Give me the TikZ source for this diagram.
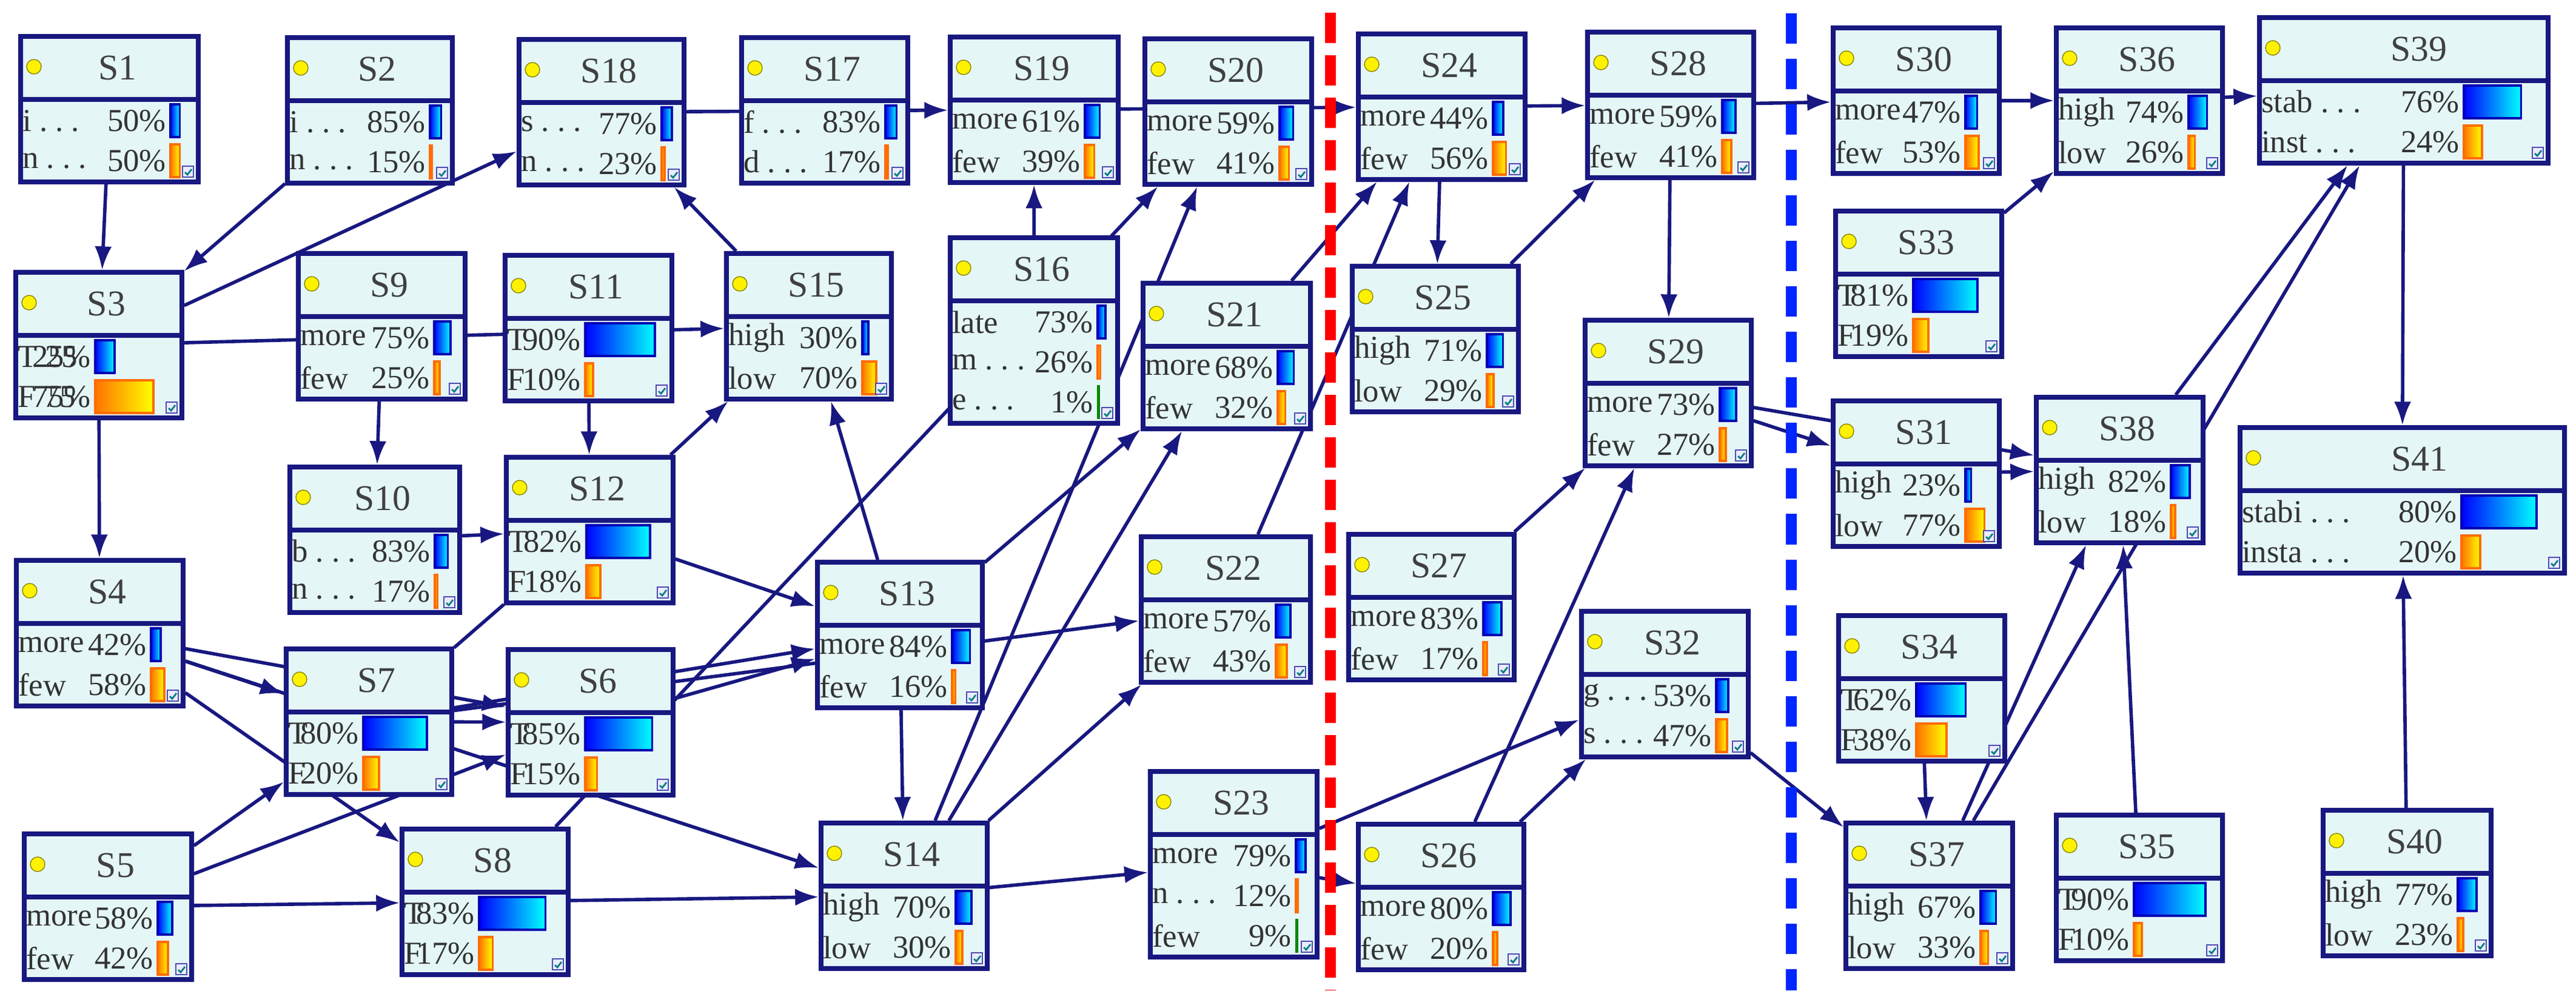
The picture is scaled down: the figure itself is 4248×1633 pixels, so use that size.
\documentclass[tikz,border=0pt]{standalone}
\usepackage{fontspec}
\setmainfont{Liberation Serif}
\usetikzlibrary{arrows.meta,backgrounds}
\definecolor{edgec}{RGB}{24,24,128}
\definecolor{boxfill}{RGB}{228,246,246}
\newcommand\dd{.\kern0.25em.\kern0.25em.}
\tikzset{
  bnbox/.style={draw=edgec,line width=2.2pt,fill=boxfill,inner sep=0pt},
  bnline/.style={draw=edgec,line width=2.2pt},
  bntitle/.style={font=\fontsize{17}{19}\selectfont,text=black!75,inner sep=0pt},
  bntext/.style={font=\fontsize{15}{17}\selectfont,text=black!80,inner sep=1pt},
  bar1/.style={draw=blue!70!black,line width=1pt,left color=blue,right color=cyan},
  bar2/.style={draw=orange!85!red,line width=1pt,left color=orange!90!red,right color=yellow},
  bar3/.style={draw=green!50!black,line width=0.6pt,fill=green!60!black},
  chk/.style={draw=blue!40!gray,line width=0.6pt,fill=blue!8},
  edge/.style={draw=edgec,line width=1.6pt,-{Latex[length=11pt,width=8pt]}},
  plain/.style={draw=edgec,line width=1.6pt},
}
\newcommand\bnnode[8][2]{%
  \pgfmathsetmacro\bnH{108+66*#1}%
  \pgfmathsetmacro\bnBC{#5-#6-14}%
  \node[bnbox,minimum width=#5*0.01cm,minimum height=\bnH*0.01cm,anchor=north west] (#2) at (#3,#4) {};
  \draw[bnline] (#3,#4+108) -- ++(#5,0);
  \fill[yellow,draw=olive,line width=0.4pt] (#3+26,#4+54) circle (0.12cm);
  \node[bntitle] at (#3+0.56*#5,#4+56) {#7};
  \foreach \lab/\pc [count=\ii] in {#8} {%
    \pgfmathsetmacro\ry{#4+108+66*(\ii-1)}%
    \pgfmathsetmacro\bl{max(\pc/100*\bnBC,3)}%
    \node[bntext,anchor=west] at (#3+3,\ry+35) {\lab};
    \node[bntext,anchor=east] at (#3+#6,\ry+35) {\pc\%};
    \draw[bar\ii] (#3+#6+3,\ry+8) rectangle ++(\bl,54);
  }
  \draw[chk] (#3+#5-22,#4+\bnH-22) rectangle ++(18,18);
  \draw[teal,line width=0.8pt] (#3+#5-18,#4+\bnH-12) -- ++(4,4) -- ++(7,-9);
}
\begin{document}
\begin{tikzpicture}[x=0.01cm,y=-0.01cm]
\useasboundingbox (0,0) rectangle (4248,1633);
\bnnode{S1}{30}{56}{293}{248}{S1}{i \dd/50,n \dd/50}
\bnnode{S2}{470}{58}{272}{236}{S2}{i \dd/85,n \dd/15}
\bnnode{S18}{852}{61}{272}{236}{S18}{s \dd/77,n \dd/23}
\bnnode{S17}{1219}{58}{274}{238}{S17}{f \dd/83,d \dd/17}
\bnnode{S19}{1563}{57}{277}{223}{S19}{more/61,few/39}
\bnnode{S20}{1884}{60}{275}{223}{S20}{more/59,few/41}
\bnnode{S24}{2236}{52}{275}{223}{S24}{more/44,few/56}
\bnnode{S28}{2614}{49}{274}{223}{S28}{more/59,few/41}
\bnnode{S30}{3019}{42}{274}{219}{S30}{more/47,few/53}
\bnnode{S36}{3387}{42}{274}{219}{S36}{high/74,low/26}
\bnnode{S39}{3722}{25}{476}{338}{S39}{stab \dd/76,inst \dd/24}
\bnnode{S3}{22}{445}{274}{132}{S3}{T 25/25,F 75/75}
\bnnode{S9}{488}{414}{275}{225}{S9}{more/75,few/25}
\bnnode{S11}{829}{417}{275}{133}{S11}{T/90,F/10}
\bnnode{S15}{1194}{414}{272}{225}{S15}{high/30,low/70}
\bnnode[3]{S16}{1563}{388}{276}{244}{S16}{late/73,m \dd/26,e \dd/1}
\bnnode{S21}{1881}{463}{276}{223}{S21}{more/68,few/32}
\bnnode{S25}{2226}{435}{274}{223}{S25}{high/71,low/29}
\bnnode{S29}{2610}{524}{274}{223}{S29}{more/73,few/27}
\bnnode{S33}{3023}{344}{274}{129}{S33}{T/81,F/19}
\bnnode{S31}{3019}{657}{274}{219}{S31}{high/23,low/77}
\bnnode{S38}{3354}{651}{275}{223}{S38}{high/82,low/18}
\bnnode{S41}{3690}{701}{535}{366}{S41}{stabi \dd/80,insta \dd/20}
\bnnode{S10}{474}{766}{280}{240}{S10}{b \dd/83,n \dd/17}
\bnnode{S12}{831}{750}{275}{133}{S12}{T/82,F/18}
\bnnode{S4}{23}{920}{275}{223}{S4}{more/42,few/58}
\bnnode{S27}{2220}{877}{273}{223}{S27}{more/83,few/17}
\bnnode{S13}{1344}{923}{272}{223}{S13}{more/84,few/16}
\bnnode{S22}{1878}{881}{279}{223}{S22}{more/57,few/43}
\bnnode{S32}{2604}{1004}{275}{223}{S32}{g \dd/53,s \dd/47}
\bnnode{S34}{3028}{1011}{274}{129}{S34}{T/62,F/38}
\bnnode{S7}{468}{1066}{273}{128}{S7}{T/80,F/20}
\bnnode{S6}{834}{1067}{272}{128}{S6}{T/85,F/15}
\bnnode{S5}{36}{1371}{276}{221}{S5}{more/58,few/42}
\bnnode{S8}{659}{1363}{274}{128}{S8}{T/83,F/17}
\bnnode{S14}{1350}{1353}{274}{223}{S14}{high/70,low/30}
\bnnode[3]{S23}{1893}{1268}{275}{241}{S23}{more/79,n \dd/12,few/9}
\bnnode{S26}{2236}{1355}{273}{223}{S26}{more/80,few/20}
\bnnode{S37}{3040}{1353}{275}{223}{S37}{high/67,low/33}
\bnnode{S35}{3387}{1340}{274}{129}{S35}{T/90,F/10}
\bnnode{S40}{3827}{1332}{277}{223}{S40}{high/77,low/23}
\begin{pgfonlayer}{background}
\fill[white] (0,0) rectangle (4248,1633);
\foreach \a/\b in {S1/S3,S2/S3,S3/S4,S3/S15,S3/S18,S9/S10,S10/S12,S11/S12,
  S12/S13,S12/S15,S15/S18,S18/S19,S19/S24,S4/S7,S4/S6,S4/S8,S4/S14,
  S5/S7,S5/S6,S5/S8,S7/S6,S7/S13,S7/S22,S6/S13,S8/S14,S8/S20,
  S13/S14,S13/S15,S13/S21,S14/S20,S14/S21,S14/S22,S14/S23,S16/S19,
  S21/S24,S22/S24,S23/S26,S23/S32,S24/S25,S24/S28,S25/S28,S26/S29,S26/S32,
  S27/S29,S28/S29,S28/S30,S29/S31,S29/S38,S30/S36,S31/S38,S32/S37,S33/S36,
  S34/S37,S35/S38,S36/S39,S37/S38,S37/S39,S38/S39,S39/S41,S40/S41}
  {\draw[edge] (\a) -- (\b);}
\draw[plain] (S7) -- (S12);
\coordinate (rtop) at (2194,21);
\coordinate (rbot) at (2194,1633);
\coordinate (btop) at (2954,22);
\coordinate (bbot) at (2954,1633);
\draw[red,line width=5pt,dash pattern=on 0.5cm off 0.2cm] (rtop) -- (rbot);
\draw[blue!85!cyan,line width=5pt,dash pattern=on 0.5cm off 0.25cm] (btop) -- (bbot);
\end{pgfonlayer}
\end{tikzpicture}
\end{document}
